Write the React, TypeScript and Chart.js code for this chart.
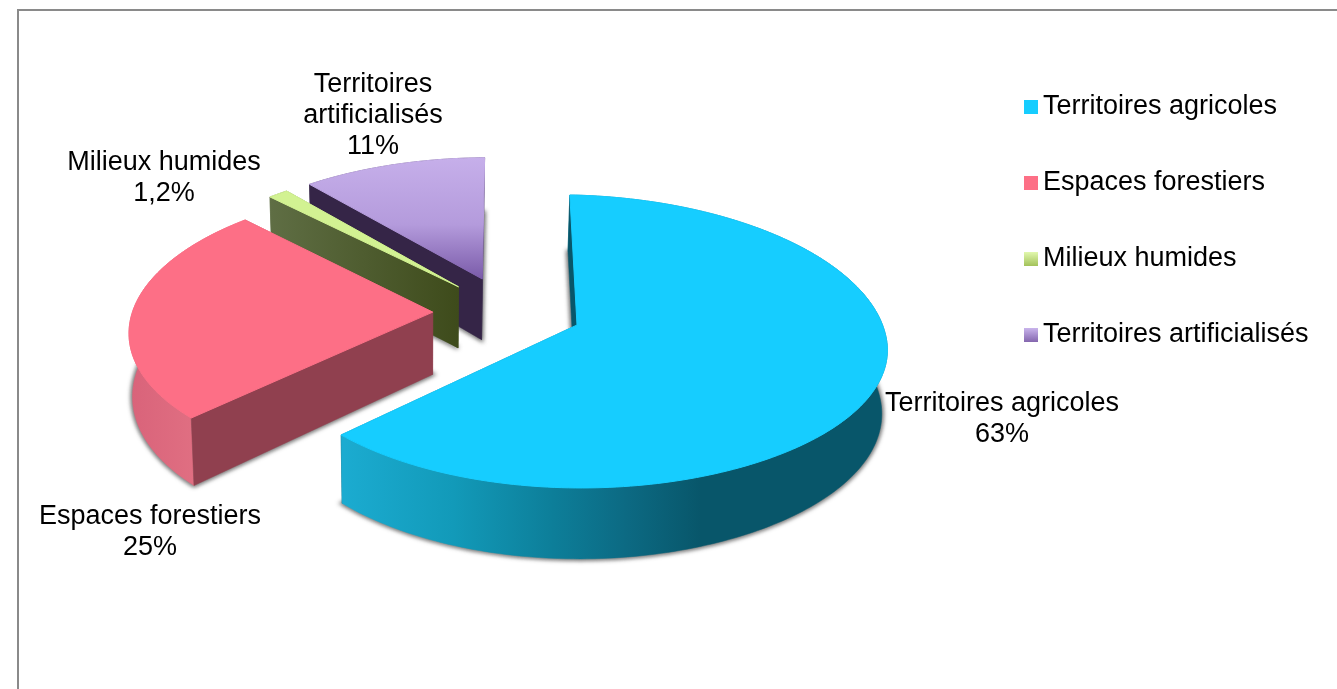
import React, { useEffect, useRef } from "react";
import { Chart, registerables } from "chart.js";

Chart.register(...registerables);

// Land cover shares, in percent.
const categories = ["Territoires agricoles", "Espaces forestiers", "Milieux humides", "Territoires artificialisés"];
const shares = [63, 25, 1.2, 11];
const sliceColors = ["#16cdff", "#fd6f86", "#d2f292", "#c5aeea"];

// Slice label layout: wrapped name lines, centre x, first baseline.
const labelLines = [["Territoires agricoles"], ["Espaces forestiers"], ["Milieux humides"], ["Territoires", "artificialisés"]];
const labelAnchors = [
  [1002, 411],
  [150, 524],
  [164, 170],
  [373, 92],
];

// Exploded offset of each slice on the pie's plane, in radii, its radius scale and its roll.
const explodeX = [0, -0.472, -0.393, -0.315];
const explodeY = [0, -0.09, -0.272, -0.33];
const radiusScale = [1, 0.985, 1, 1];
const sliceRoll = [0.025, 0, 0, 0];

// Tilted-plane projection constants.
const TILT = 0.4695;
const PERSPECTIVE = 0.1126;
const SHEAR = 0.012;
const DEPTH = 0.2044;
const WALL_TAPER = 0.988;
const VANISH_X = 420;
const FONT = "'Liberation Sans', Arial, sans-serif";

type Pt = [number, number];

function makeProjector(cx: number, cy: number, R: number) {
  return (u: number, v: number, roll = 0): Pt => {
    const s = 1 / (1 - v * PERSPECTIVE);
    const rollY = roll * Math.max(u, 0) * (v > 0 ? 1 - v : 1);
    return [cx + (u + v * SHEAR) * R * s, cy + (v * TILT + rollY) * R * s];
  };
}

function makeSwatch(top: string, bottom: string) {
  const c = document.createElement("canvas");
  c.width = 18;
  c.height = 17;
  const g = c.getContext("2d")!;
  const grad = g.createLinearGradient(0, 2, 0, 16);
  grad.addColorStop(0, top);
  grad.addColorStop(1, bottom);
  g.fillStyle = grad;
  g.fillRect(4, 2, 14, 14);
  return c;
}

function polygon(ctx: CanvasRenderingContext2D, pts: Pt[]) {
  ctx.beginPath();
  pts.forEach(([x, y], i) => (i ? ctx.lineTo(x, y) : ctx.moveTo(x, y)));
  ctx.closePath();
}

function horizontalGradient(ctx: CanvasRenderingContext2D, x0: number, x1: number, stops: [number, string][]) {
  const g = ctx.createLinearGradient(x0, 0, x1, 0);
  stops.forEach(([o, c]) => g.addColorStop(o, c));
  return g;
}

// Draws every slice as an extruded wedge, using the angles and radius the pie controller computed.
const extrudedPie = {
  id: "extrudedPie",
  beforeDatasetDraw(chart: any) {
    const ctx: CanvasRenderingContext2D = chart.ctx;
    const arcs = chart.getDatasetMeta(0).data;
    const first = arcs[0];
    const cx = first.x;
    const cy = first.y;
    const R = first.outerRadius;
    const project = makeProjector(cx, cy, R);
    const depth = R * DEPTH;

    [3, 2, 1, 0].forEach((i) => {
      const arc = arcs[i];
      const a0: number = arc.startAngle;
      const a1: number = arc.endAngle;
      const ox = explodeX[i];
      const oy = explodeY[i];
      const scale = radiusScale[i];
      const roll = sliceRoll[i];
      const upper = (u: number, v: number) => project(u, v, roll);
      const lower = (u: number, v: number): Pt => {
        const [x, y] = upper(u, v);
        const s = 1 / (1 - v * PERSPECTIVE);
        return [VANISH_X + (x - VANISH_X) * WALL_TAPER, y + depth * s];
      };
      const steps = Math.max(4, Math.ceil((a1 - a0) / 0.02));
      const rim: [number, number][] = [];
      for (let k = 0; k <= steps; k++) {
        const a = a0 + ((a1 - a0) * k) / steps;
        rim.push([ox + scale * Math.cos(a), oy + scale * Math.sin(a)]);
      }
      const topRim = rim.map(([u, v]) => upper(u, v));
      const lowRim = rim.map(([u, v]) => lower(u, v));
      const apexTop = upper(ox, oy);
      const apexLow = lower(ox, oy);

      // Soft ground shadow around the underside of the wedge.
      ctx.save();
      (ctx as any).filter = "blur(2px)";
      polygon(ctx, [apexLow, ...lowRim]);
      ctx.fillStyle = "rgba(40,40,40,0.55)";
      ctx.strokeStyle = "rgba(40,40,40,0.55)";
      ctx.lineWidth = 4;
      ctx.translate(0.5, 1.5);
      ctx.fill();
      ctx.stroke();
      ctx.restore();

      const startWall: Pt[] = [apexTop, topRim[0], lowRim[0], apexLow];
      const endWall: Pt[] = [apexTop, topRim[steps], lowRim[steps], apexLow];
      const band: Pt[] = [...topRim, ...[...lowRim].reverse()];
      const startFacing = -Math.cos(a0) > 0;
      const endFacing = Math.cos(a1) > 0;

      const wallFill =
        i === 0
          ? "#08566a"
          : i === 1
            ? "#90404f"
            : i === 2
              ? horizontalGradient(ctx, topRim[0][0], apexTop[0], [
                  [0, "#5f6e44"],
                  [1, "#3e4b1b"],
                ])
              : horizontalGradient(ctx, topRim[steps][0], apexTop[0], [
                  [0, "#56476d"],
                  [1, "#352547"],
                ]);

      const bandFill =
        i === 0
          ? horizontalGradient(ctx, 345, 885, [
              [0, "#1babd0"],
              [0.2, "#129ab9"],
              [0.38, "#0d7f9a"],
              [0.52, "#0c6a83"],
              [0.66, "#08566a"],
              [1, "#08566a"],
            ])
          : i === 1
            ? horizontalGradient(ctx, 130, 195, [
                [0, "#d9637a"],
                [1, "#e06f82"],
              ])
            : wallFill;

      const paint = (pts: Pt[], fill: any) => {
        polygon(ctx, pts);
        ctx.fillStyle = fill;
        ctx.fill();
        ctx.strokeStyle = fill;
        ctx.lineWidth = 0.5;
        ctx.stroke();
      };

      if (!startFacing) paint(startWall, wallFill);
      if (!endFacing) paint(endWall, wallFill);
      paint(band, bandFill);
      if (startFacing) paint(startWall, wallFill);
      if (endFacing) paint(endWall, wallFill);

      // Top face, coloured from the arc's own options.
      let topFill: any = arc.options.backgroundColor;
      if (i === 3) {
        const ys = topRim.map((p) => p[1]);
        const g = ctx.createLinearGradient(0, Math.min(...ys), 0, apexTop[1]);
        g.addColorStop(0, "#c6afea");
        g.addColorStop(0.55, "#b49bdc");
        g.addColorStop(1, "#7a5ba9");
        topFill = g;
      }
      polygon(ctx, [apexTop, ...topRim]);
      ctx.fillStyle = topFill;
      ctx.strokeStyle = topFill;
      ctx.lineWidth = 1;
      ctx.fill();
      ctx.stroke();
    });
    return false;
  },
  afterDatasetsDraw(chart: any) {
    const ctx: CanvasRenderingContext2D = chart.ctx;
    ctx.save();
    ctx.font = `27px ${FONT}`;
    ctx.fillStyle = "#000";
    ctx.textAlign = "center";
    ctx.textBaseline = "alphabetic";
    const lineGap = 31;
    shares.forEach((share, i) => {
      const [x, y] = labelAnchors[i];
      const percent = `${String(share).replace(".", ",")}%`;
      [...labelLines[i], percent].forEach((line, k) => ctx.fillText(line, x, y + k * lineGap));
    });
    ctx.restore();
  },
  afterLayout(chart: any) {
    const legend = chart.legend;
    const pad = legend.options.labels.padding;
    const w = legend.width;
    const h = legend.height;
    legend.left = 1028.5 - pad;
    legend.right = legend.left + w;
    legend.top = 44;
    legend.bottom = legend.top + h;
  },
};

export default function App() {
  const ref = useRef<HTMLCanvasElement>(null);
  useEffect(() => {
    const swatches = [
      makeSwatch("#16cdff", "#16cdff"),
      makeSwatch("#fd6f86", "#fd6f86"),
      makeSwatch("#e2f8ae", "#a3c25a"),
      makeSwatch("#c9b4ec", "#8466ae"),
    ];
    const chart = new Chart(ref.current!, {
      type: "pie",
      data: {
        labels: categories,
        datasets: [{ data: shares, backgroundColor: sliceColors, borderWidth: 0, hoverOffset: 0 }],
      },
      options: {
        responsive: false,
        animation: false,
        events: [],
        rotation: -0.8,
        layout: { padding: { left: 269, right: 452, top: 17, bottom: 56 } },
        plugins: {
          tooltip: { enabled: false },
          legend: {
            position: "chartArea",
            align: "start",
            labels: {
              font: { family: FONT, size: 27 },
              color: "#000",
              boxWidth: 1,
              usePointStyle: true,
              padding: 49,
              generateLabels: () =>
                categories.map((text, index) => ({
                  text,
                  index,
                  hidden: false,
                  fillStyle: sliceColors[index],
                  strokeStyle: sliceColors[index],
                  lineWidth: 0,
                  pointStyle: swatches[index],
                })),
            },
          },
        },
      } as any,
      plugins: [extrudedPie as any],
    });
    return () => chart.destroy();
  }, []);

  return (
    <div style={{ position: "fixed", inset: 0, overflow: "hidden", background: "#fff" }}>
      <div
        style={{
          position: "absolute",
          left: 17,
          top: 9,
          right: -10,
          bottom: -10,
          borderLeft: "2px solid #8a8a8a",
          borderTop: "2px solid #8a8a8a",
        }}
      />
      <canvas ref={ref} width={1337} height={689} style={{ position: "absolute", left: 0, top: 0 }} />
    </div>
  );
}
